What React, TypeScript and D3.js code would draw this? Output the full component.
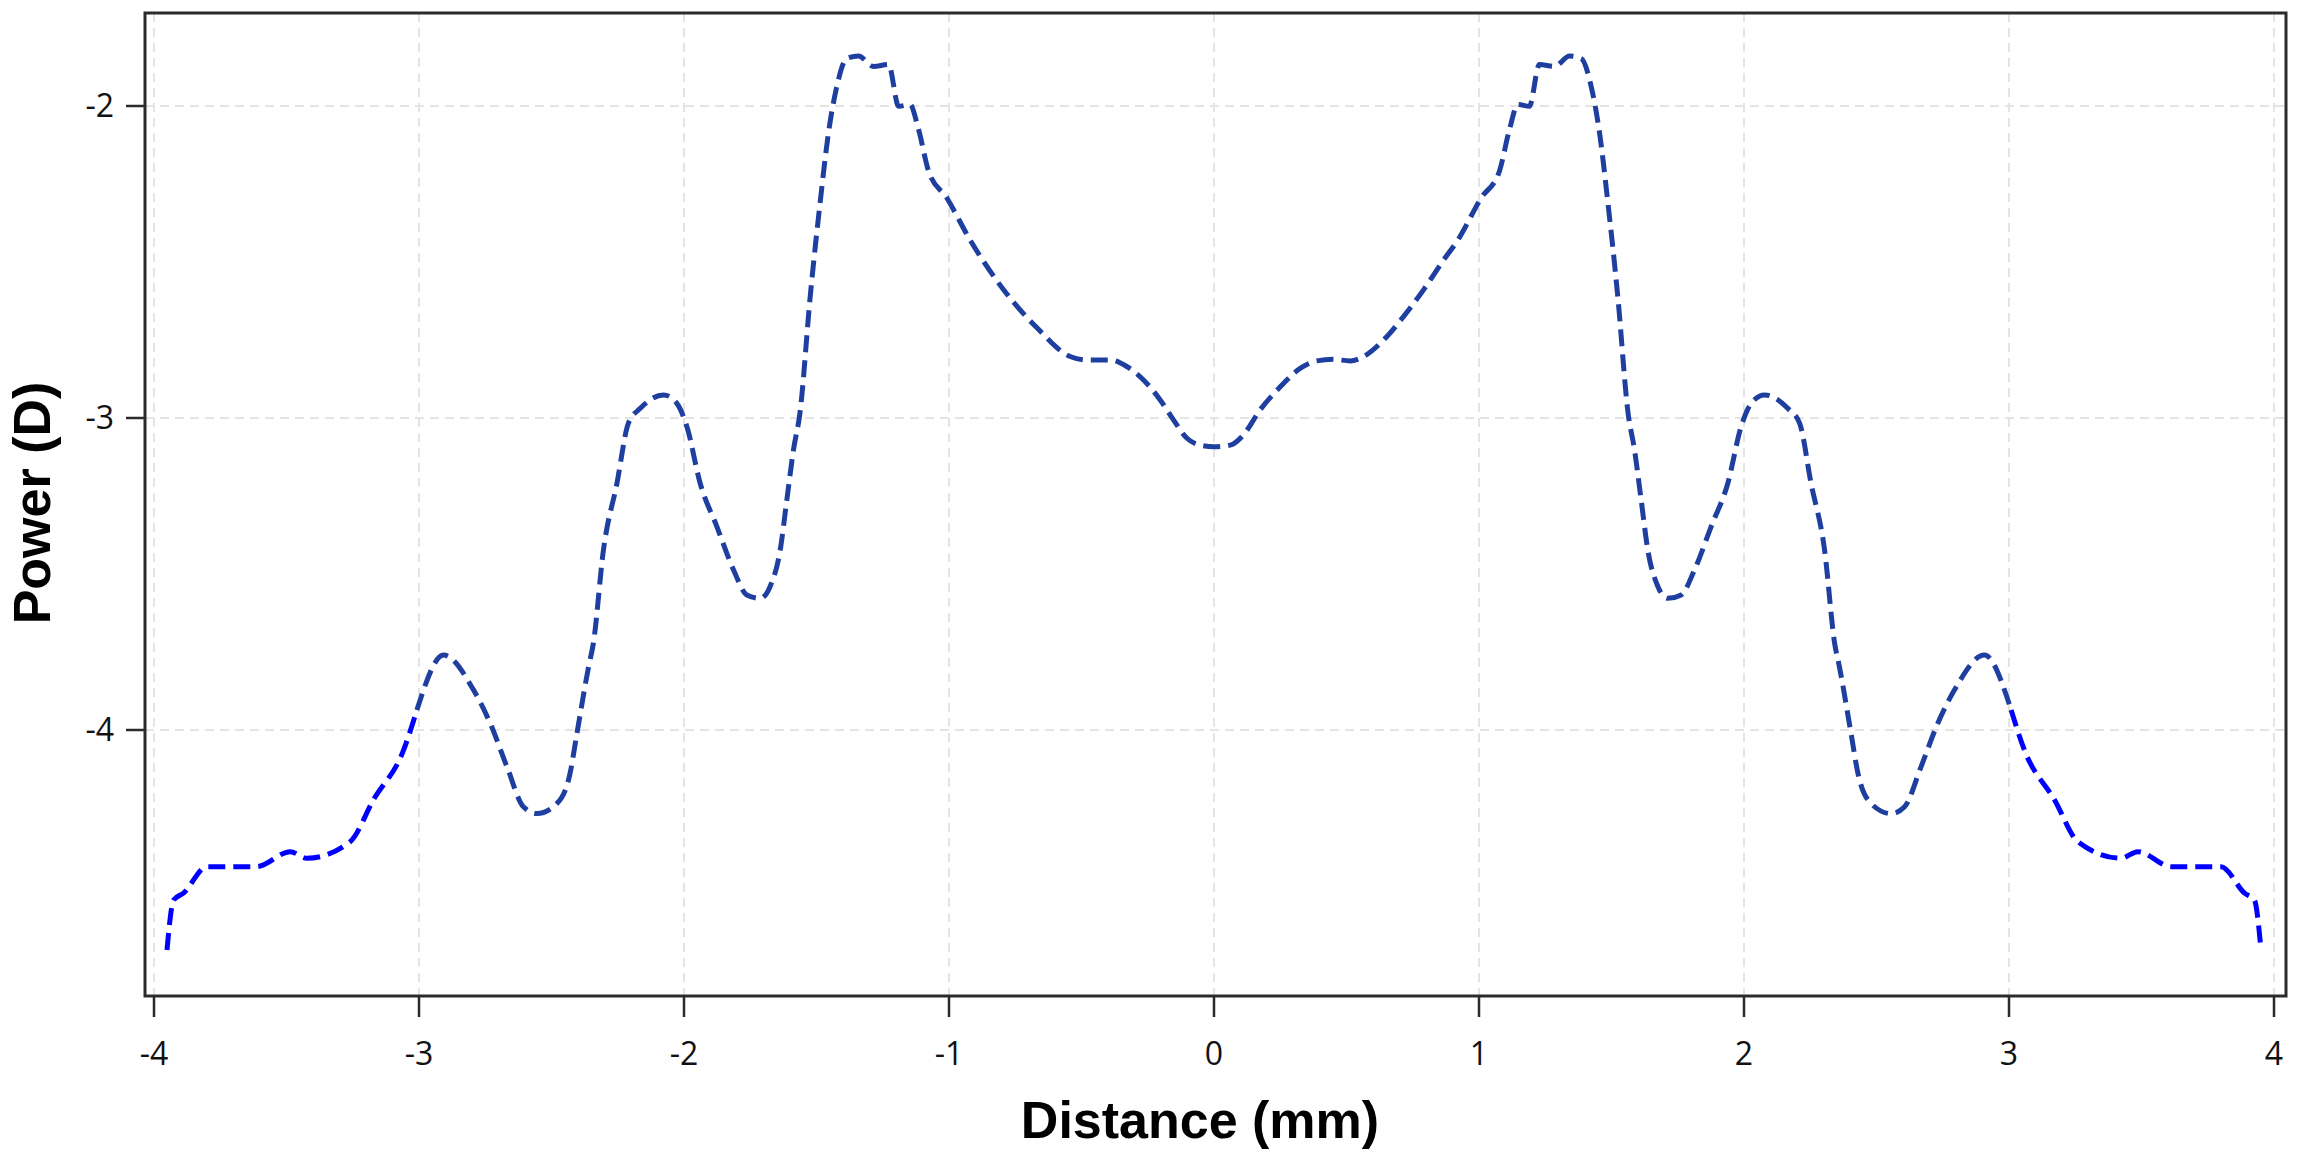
import React from "react";
import * as d3 from "d3";

const xTicks = [-4, -3, -2, -1, 0, 1, 2, 3, 4];
const yTicks = [-2, -3, -4];

const distance = [
  -3.951, -3.926, -3.889, -3.8, -3.675, -3.612, -3.486, -3.423, -3.26, -3.172,
  -3.058, -3.008, -2.907, -2.794, -2.731, -2.668, -2.606, -2.555, -2.48, -2.43,
  -2.404, -2.36, -2.342, -2.304, -2.253, -2.21, -2.165, -2.077, -2.027, -1.989,
  -1.939, -1.876, -1.813, -1.763, -1.712, -1.675, -1.637, -1.612, -1.587, -1.562,
  -1.524, -1.486, -1.455, -1.424, -1.386, -1.342, -1.285, -1.228, -1.19, -1.147,
  -1.115, -1.077, -1.008, -0.92, -0.794, -0.668, -0.543, -0.48, -0.392, -0.329,
  -0.266, -0.203, -0.153, -0.102, -0.052, 0,
  0.061, 0.111, 0.174, 0.25, 0.325, 0.388, 0.451, 0.514, 0.564, 0.64,
  0.715, 0.79, 0.866, 0.92, 1.008, 1.077, 1.115, 1.147, 1.19, 1.228,
  1.285, 1.342, 1.386, 1.424, 1.455, 1.486, 1.524, 1.562, 1.587, 1.612,
  1.637, 1.675, 1.712, 1.763, 1.813, 1.876, 1.939, 1.989, 2.027, 2.077,
  2.165, 2.21, 2.253, 2.304, 2.342, 2.36, 2.404, 2.43, 2.48, 2.555,
  2.606, 2.668, 2.731, 2.794, 2.907, 3.008, 3.058, 3.172, 3.26, 3.423,
  3.486, 3.612, 3.675, 3.8, 3.889, 3.926, 3.951,
];

const power = [
  -4.705, -4.545, -4.523, -4.438, -4.438, -4.438, -4.39, -4.411, -4.358, -4.224,
  -4.064, -3.936, -3.76, -3.872, -3.979, -4.118, -4.246, -4.268, -4.236, -4.139,
  -4.011, -3.797, -3.722, -3.423, -3.209, -3.017, -2.969, -2.926, -2.953, -3.028,
  -3.209, -3.348, -3.487, -3.567, -3.578, -3.54, -3.423, -3.263, -3.103, -2.981,
  -2.613, -2.307, -2.087, -1.94, -1.848, -1.84, -1.873, -1.867, -2.001, -1.995,
  -2.075, -2.209, -2.295, -2.43, -2.589, -2.711, -2.803, -2.814, -2.814, -2.835,
  -2.878, -2.942, -3.006, -3.065, -3.087, -3.092,
  -3.087, -3.054, -2.974, -2.9, -2.841, -2.817, -2.812, -2.817, -2.803, -2.75,
  -2.675, -2.59, -2.494, -2.43, -2.295, -2.209, -2.075, -1.995, -2.001, -1.867,
  -1.873, -1.84, -1.848, -1.94, -2.087, -2.307, -2.613, -2.981, -3.103, -3.263,
  -3.423, -3.54, -3.578, -3.567, -3.487, -3.348, -3.209, -3.028, -2.953, -2.926,
  -2.969, -3.017, -3.209, -3.423, -3.722, -3.797, -4.011, -4.139, -4.236, -4.268,
  -4.246, -4.118, -3.979, -3.872, -3.76, -3.936, -4.064, -4.224, -4.358, -4.411,
  -4.39, -4.438, -4.438, -4.438, -4.523, -4.545, -4.705,
];

const colorBreak = 3.0;

export default function App() {
  const W = 2299;
  const H = 1159;
  const frame = { left: 145, right: 2286, top: 13, bottom: 996 };
  const x = d3.scaleLinear().domain([-4, 4]).range([154, 2274]);
  const y = d3.scaleLinear().domain([-4, -2]).range([730, 106]);

  const pts = distance.map((d, i) => [d, power[i]] as [number, number]);
  const line = d3
    .line<[number, number]>()
    .x((d) => x(d[0]))
    .y((d) => y(d[1]))
    .curve(d3.curveMonotoneX);

  const leftOuter = pts.filter((p) => p[0] <= -colorBreak + 0.01);
  const inner = pts.filter((p) => p[0] >= -colorBreak - 0.01 && p[0] <= colorBreak + 0.01);
  const rightOuter = pts.filter((p) => p[0] >= colorBreak - 0.01);

  const tickFont = "'Open Sans', 'Noto Sans', sans-serif";
  const labelFont = "'Liberation Sans', Arial, sans-serif";
  const dash = "17 8";
  const sw = 5;

  return (
    <svg
      width={W}
      height={H}
      style={{ position: "absolute", left: 0, top: 0, background: "#fff" }}
    >
      <rect x={0} y={0} width={W} height={H} fill="#fff" />
      {xTicks.map((t) => (
        <line
          key={"gx" + t}
          x1={x(t)}
          x2={x(t)}
          y1={frame.top}
          y2={frame.bottom}
          stroke="#e4e4e4"
          strokeWidth={2}
          strokeDasharray="9 6"
        />
      ))}
      {yTicks.map((t) => (
        <line
          key={"gy" + t}
          x1={frame.left}
          x2={frame.right}
          y1={y(t)}
          y2={y(t)}
          stroke="#e4e4e4"
          strokeWidth={2}
          strokeDasharray="9 6"
        />
      ))}
      <path d={line(leftOuter) || ""} fill="none" stroke="#0000ff" strokeWidth={sw} strokeDasharray={dash} />
      <path d={line(inner) || ""} fill="none" stroke="#1f3fa0" strokeWidth={sw} strokeDasharray={dash} />
      <path d={line(rightOuter) || ""} fill="none" stroke="#0000ff" strokeWidth={sw} strokeDasharray={dash} />
      <rect
        x={frame.left}
        y={frame.top}
        width={frame.right - frame.left}
        height={frame.bottom - frame.top}
        fill="none"
        stroke="#2b2b2b"
        strokeWidth={3}
      />
      {xTicks.map((t) => (
        <g key={"xt" + t}>
          <line x1={x(t)} x2={x(t)} y1={frame.bottom} y2={frame.bottom + 21} stroke="#2b2b2b" strokeWidth={2.5} />
          <text
            x={x(t)}
            y={frame.bottom + 69}
            textAnchor="middle"
            fontFamily={tickFont}
            fontSize={32}
            fill="#111"
          >
            {t}
          </text>
        </g>
      ))}
      {yTicks.map((t) => (
        <g key={"yt" + t}>
          <line x1={frame.left - 19} x2={frame.left} y1={y(t)} y2={y(t)} stroke="#2b2b2b" strokeWidth={2.5} />
          <text
            x={frame.left - 31}
            y={y(t)}
            dy="0.35em"
            textAnchor="end"
            fontFamily={tickFont}
            fontSize={32}
            fill="#111"
          >
            {t}
          </text>
        </g>
      ))}
      <text
        x={1200}
        y={1138}
        textAnchor="middle"
        fontFamily={labelFont}
        fontWeight="bold"
        fontSize={52}
        fill="#000"
      >
        Distance (mm)
      </text>
      <text
        transform={`translate(50, 503) rotate(-90)`}
        textAnchor="middle"
        fontFamily={labelFont}
        fontWeight="bold"
        fontSize={52}
        fill="#000"
      >
        Power (D)
      </text>
    </svg>
  );
}
